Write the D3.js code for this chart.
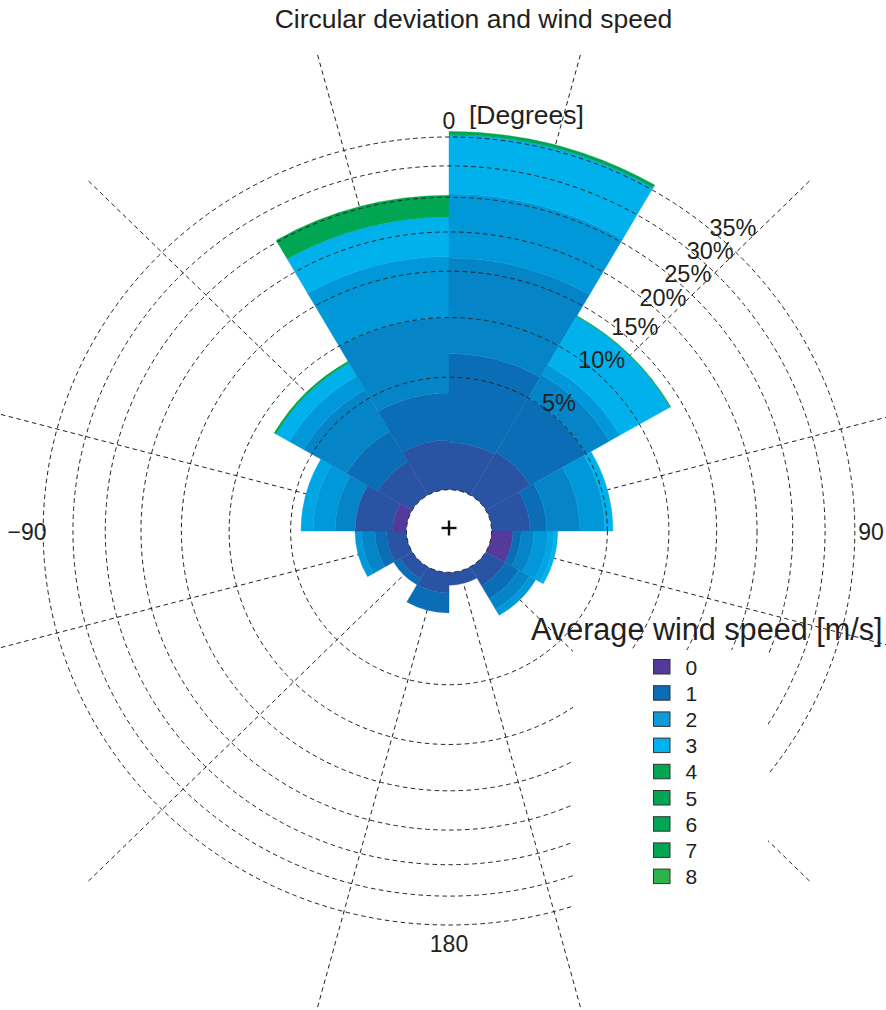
<!DOCTYPE html>
<html>
<head>
<meta charset="utf-8">
<script src="https://cdn.jsdelivr.net/npm/d3@7"></script>
<style>
  body { margin: 0; background: #fff; }
  svg { display: block; }
  text { font-family: "Liberation Sans", Arial, Helvetica, sans-serif; fill: #231f20; }
</style>
</head>
<body>
<svg id="chart" width="886" height="1010"></svg>
<script>
// Direction sectors (degrees, clockwise from 0 at the top), 30 degrees wide
const sectorStarts = [-180, -150, -120, -90, -60, -30, 0, 30, 60, 90, 120, 150];
const sectorWidth = 30;

// Frequency (%) of each speed band per sector, innermost band first
const bandPurple = [0,    0,    0,    0.29, 0,    0,    0,    0,    0,    0.49, 0,    0];
const bandIndigo = [0.49, 0.30, 0.45, 1.22, 1.07, 1.50, 1.40, 1.50, 1.02, 0,    0.52, 0.28];
const bandBlue1  = [0.65, 0.19, 0.34, 0,    1.55, 2.45, 5.40, 3.50, 0.64, 0.24, 0.48, 0];
const bandBlue2  = [0,    0,    0.46, 0.89, 3.05, 6.05, 9.80, 2.00, 1.64, 0.43, 0.47, 0];
const bandBlue3  = [0,    0,    0.26, 1.18, 1.25, 6.80, 8.90, 1.00, 1.54, 0.55, 0.30, 0];
const bandBlue4  = [0,    0,    0,    0.74, 0,    0,    0,    0,    0,    0.27, 0,    0];
const bandCyan   = [0,    0,    0,    0,    1.27, 5.30, 9.90, 5.60, 0.55, 0.17, 0,    0];
const bandGreen  = [0,    0,    0,    0,    0.18, 3.20, 0.60, 0.10, 0,    0,    0,    0];

const bandSeries = [bandPurple, bandIndigo, bandBlue1, bandBlue2, bandBlue3, bandBlue4, bandCyan, bandGreen];
const bandColors = ["#55399b", "#2a53a3", "#0a6db6", "#0585c8", "#0098d9", "#00a6e3", "#00b1ec", "#00a651"];

// Legend: speed classes
const speedLabels = ["0", "1", "2", "3", "4", "5", "6", "7", "8"];
const speedColors = ["#54399a", "#0a6db6", "#0d9ad8", "#00b3ee", "#00a651", "#00a651", "#00a651", "#00a651", "#2cb34a"];

// Radial grid
const ringValues = [0, 5, 10, 15, 20, 25, 30, 35];
const ringLabels = ["5%", "10%", "15%", "20%", "25%", "30%", "35%"];
const spokeAngles = [15, 45, 75, 105, 135, 165, 195, 225, 255, 285, 315, 345];
const axisLabels = [
  { angle: 0,   text: "0" },
  { angle: 90,  text: "90" },
  { angle: 180, text: "180" },
  { angle: -90, text: "\u221290" }
];

const W = 886, H = 1010;
const cx = 449, cy = 531;
const sx = 1.03;              // horizontal stretch of the polar axes
const innerR = 41.3, outerR = 394, spokeR = 495;

const svg = d3.select("#chart");
const rad = d => d * Math.PI / 180;

const r = d3.scaleRadial().domain([0, 35]).range([innerR, outerR]);

const polar = svg.append("g").attr("transform", `translate(${cx},${cy}) scale(${sx},1)`);

// spokes (beneath the bars)
polar.append("g").selectAll("line").data(spokeAngles).join("line")
  .attr("x1", a => innerR * Math.sin(rad(a)))
  .attr("y1", a => -innerR * Math.cos(rad(a)))
  .attr("x2", a => spokeR * Math.sin(rad(a)))
  .attr("y2", a => -spokeR * Math.cos(rad(a)))
  .attr("stroke", "#222").attr("stroke-width", 1)
  .attr("stroke-dasharray", "4.5,3.5")
  .attr("vector-effect", "non-scaling-stroke");

// stacked wedges
const stackRows = [];
sectorStarts.forEach((s, i) => {
  let acc = 0;
  bandSeries.forEach((series, b) => {
    const v = series[i];
    if (v > 0) stackRows.push({ start: s, y0: acc, y1: acc + v, color: bandColors[b] });
    acc += v;
  });
});

const arc = d3.arc()
  .innerRadius(d => r(d.y0))
  .outerRadius(d => r(d.y1))
  .startAngle(d => rad(d.start))
  .endAngle(d => rad(d.start + sectorWidth));

polar.append("g").selectAll("path").data(stackRows).join("path")
  .attr("d", arc)
  .attr("fill", d => d.color)
  .attr("stroke", d => d.color)
  .attr("stroke-width", 0.4);

// hole
polar.append("circle").attr("r", innerR).attr("fill", "#fff");

// rings (over the bars)
polar.append("g").selectAll("circle").data(ringValues).join("circle")
  .attr("r", v => r(v))
  .attr("fill", "none")
  .attr("stroke", "#222").attr("stroke-width", 1)
  .attr("stroke-dasharray", "4.5,3.5")
  .attr("vector-effect", "non-scaling-stroke");

// centre marker
svg.append("g").attr("transform", `translate(${cx},${cy - 3})`)
  .selectAll("line").data([[-7.5, 0, 7.5, 0], [0, -7.5, 0, 7.5]]).join("line")
  .attr("x1", d => d[0]).attr("y1", d => d[1]).attr("x2", d => d[2]).attr("y2", d => d[3])
  .attr("stroke", "#111").attr("stroke-width", 2.4);

const px = (v, a) => cx + sx * r(v) * Math.sin(rad(a));
const py = (v, a) => cy - r(v) * Math.cos(rad(a));

// ring labels along the upper-right diagonal (outermost one lifted a little)
const labelAngle = 44;
svg.append("g").selectAll("text").data(ringLabels).join("text")
  .attr("x", (t, i) => px(ringValues[i + 1], labelAngle) + (i === 6 ? 2 : 0))
  .attr("y", (t, i) => py(ringValues[i + 1], labelAngle) - 9.4 - (i === 6 ? 2.5 : 0))
  .attr("text-anchor", "middle")
  .attr("font-size", 23.5)
  .text(t => t);

// angle labels
const axisPos = {
  "0":   [449, 129, "middle"],
  "90":  [871, 540, "middle"],
  "180": [449, 952, "middle"],
  "\u221290": [27, 540, "middle"]
};
svg.append("g").selectAll("text").data(axisLabels).join("text")
  .attr("x", d => axisPos[d.text][0])
  .attr("y", d => axisPos[d.text][1])
  .attr("text-anchor", d => axisPos[d.text][2])
  .attr("font-size", 23)
  .text(d => d.text);

svg.append("text").attr("x", 469).attr("y", 124).attr("font-size", 26.5).text("[Degrees]");

// title
svg.append("text").attr("x", 473.5).attr("y", 28).attr("text-anchor", "middle")
  .attr("font-size", 26.5).text("Circular deviation and wind speed");

// legend
const legend = svg.append("g");
legend.append("rect").attr("x", 573).attr("y", 650).attr("width", 195).attr("height", 265)
  .attr("fill", "#fff");
legend.append("text").attr("x", 531).attr("y", 640).attr("font-size", 30.6)
  .text("Average wind speed [m/s]");
const items = legend.selectAll("g.item").data(speedLabels).join("g")
  .attr("class", "item")
  .attr("transform", (d, i) => `translate(653.5,${659.5 + i * 26.2})`);
items.append("rect").attr("width", 16.5).attr("height", 14.5)
  .attr("fill", (d, i) => speedColors[i])
  .attr("stroke", "#333").attr("stroke-width", 1);
items.append("text").attr("x", 32).attr("y", 15).attr("font-size", 21).text(d => d);
</script>
</body>
</html>
